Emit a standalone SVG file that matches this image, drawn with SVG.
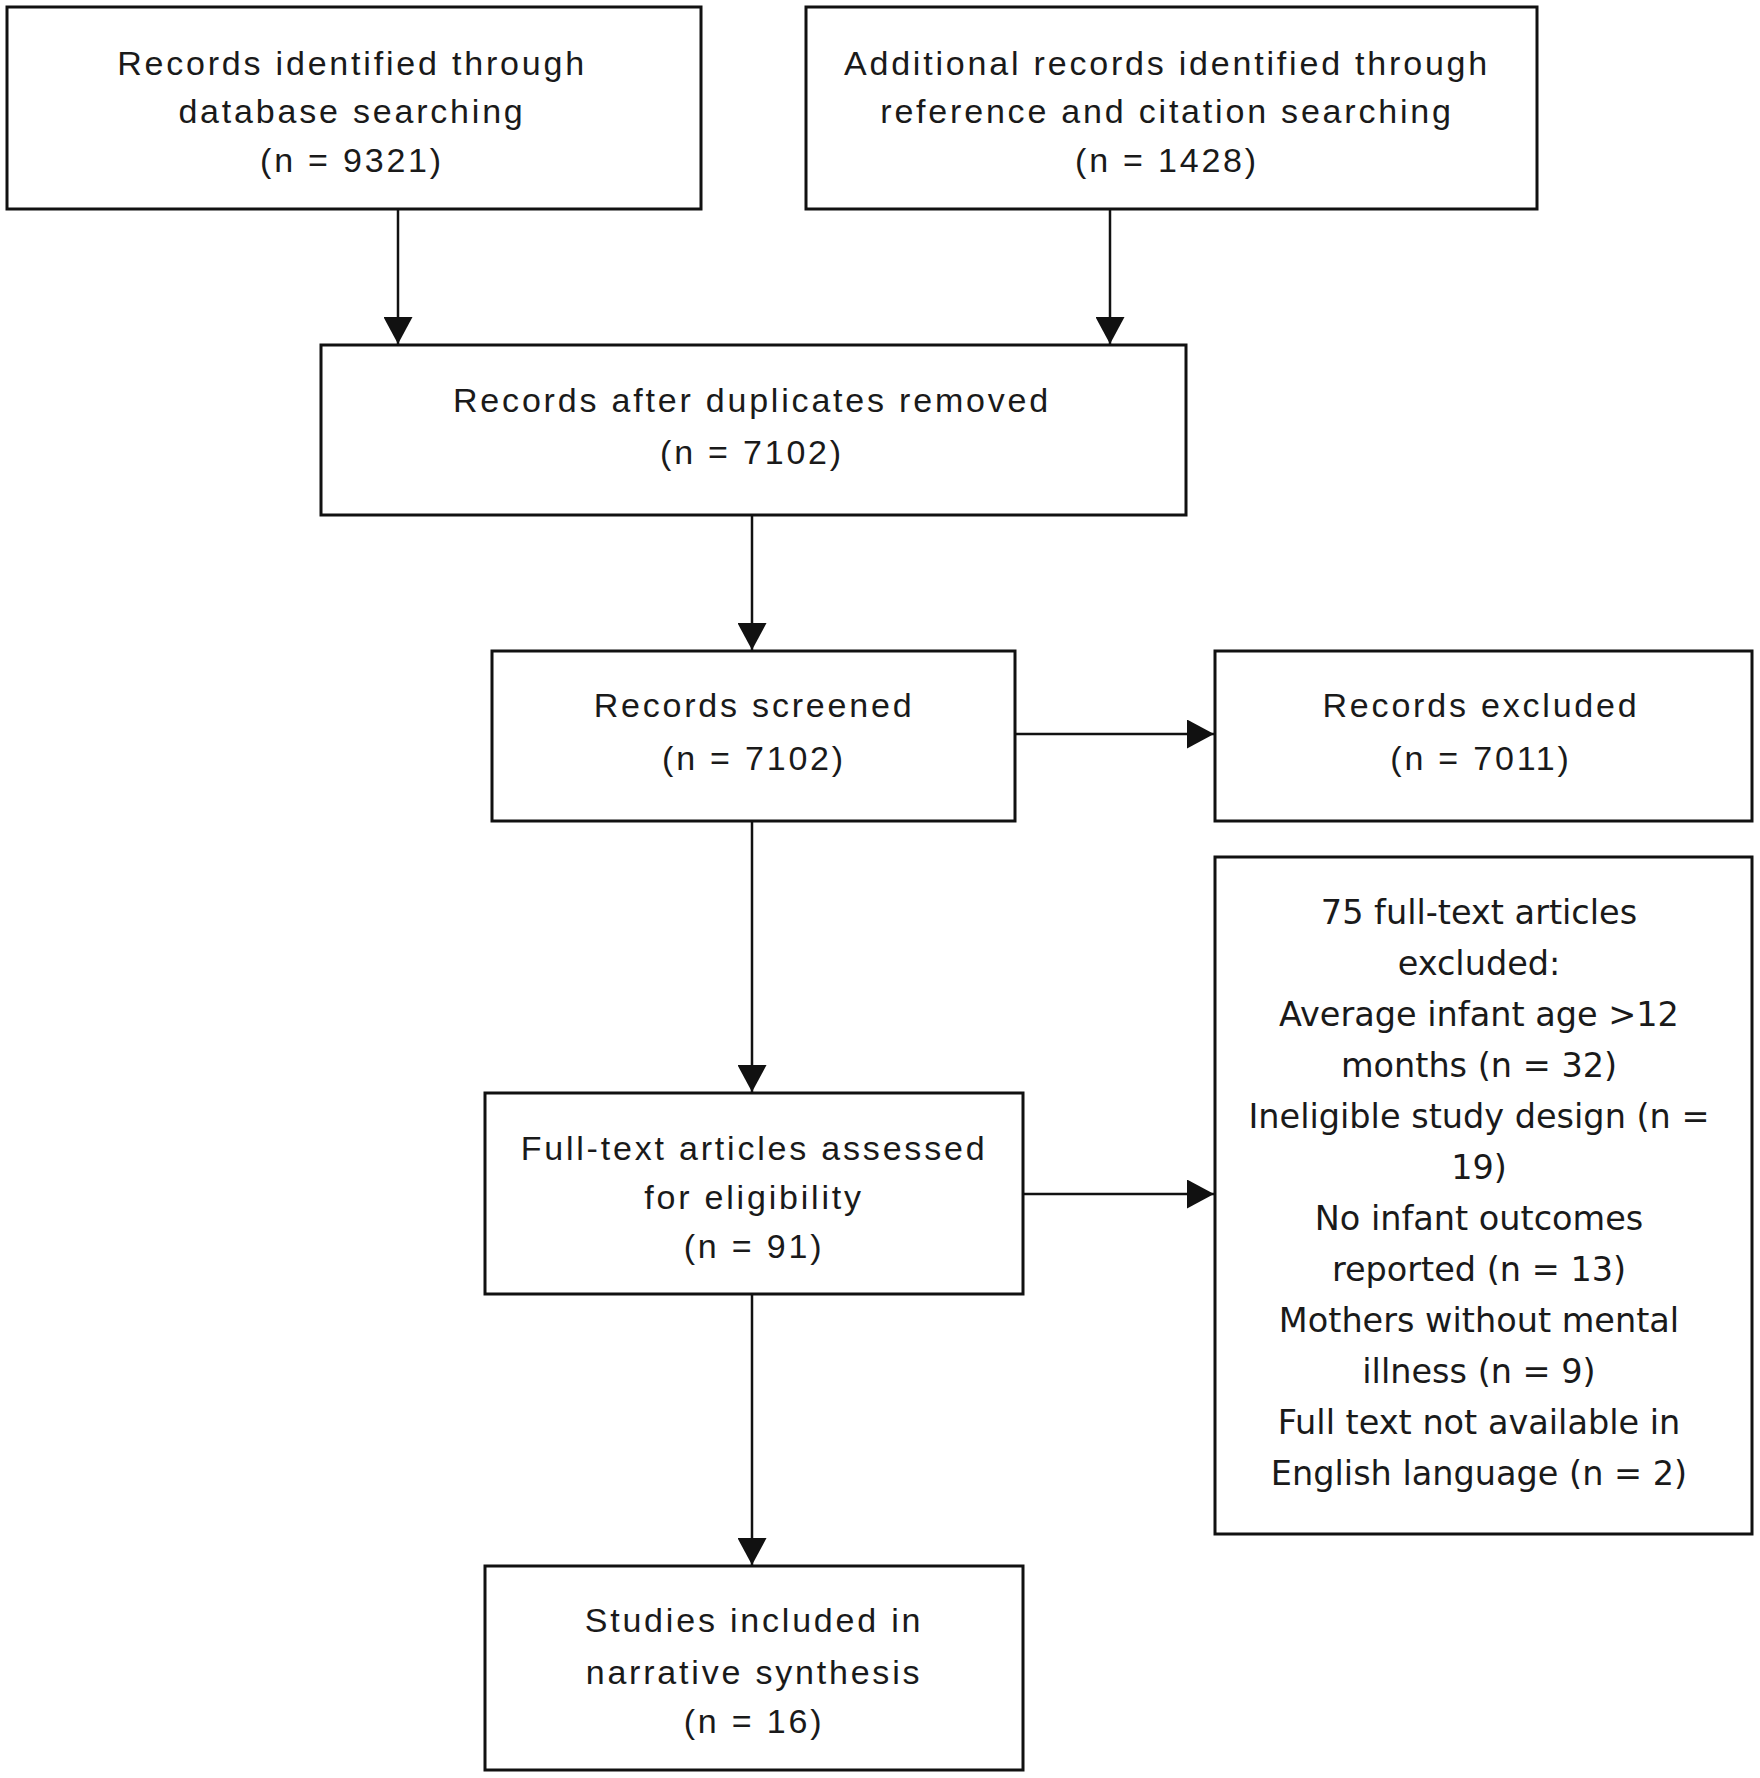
<svg xmlns="http://www.w3.org/2000/svg" width="1760" height="1778" viewBox="0 0 1760 1778">
<style>
.box{fill:#fff;stroke:#111;stroke-width:3}
.t{font-family:"Liberation Sans",Arial,sans-serif;font-size:34px;letter-spacing:2.8px;fill:#1a1a1a;text-anchor:middle}
.v{font-family:"DejaVu Sans",Verdana,sans-serif;font-size:33.5px;fill:#1a1a1a;text-anchor:middle}
.c{fill:none;stroke:#111;stroke-width:2.5}
</style>
<defs>
<marker id="ah" viewBox="0 0 27 29" refX="27" refY="14.5" markerWidth="27" markerHeight="29" markerUnits="userSpaceOnUse" orient="auto">
<path d="M0,0 L27,14.5 L0,29 z" fill="#111"/>
</marker>
</defs>
<rect width="1760" height="1778" fill="#fff"/>
<g id="connectors">
<path class="c" d="M398,209 V344" marker-end="url(#ah)"/>
<path class="c" d="M1110,209 V344" marker-end="url(#ah)"/>
<path class="c" d="M752,515 V650" marker-end="url(#ah)"/>
<path class="c" d="M1015,734 H1214" marker-end="url(#ah)"/>
<path class="c" d="M752,821 V1092" marker-end="url(#ah)"/>
<path class="c" d="M1023,1194 H1214" marker-end="url(#ah)"/>
<path class="c" d="M752,1294 V1565" marker-end="url(#ah)"/>
</g>
<g id="node-db">
<rect class="box" x="7" y="7" width="694" height="202"/>
<text class="t" x="352" y="75">Records identified through</text>
<text class="t" x="352" y="123">database searching</text>
<text class="t" x="352" y="172">(n = 9321)</text>
</g>
<g id="node-additional">
<rect class="box" x="806" y="7" width="731" height="202"/>
<text class="t" x="1167" y="75">Additional records identified through</text>
<text class="t" x="1167" y="123">reference and citation searching</text>
<text class="t" x="1167" y="172">(n = 1428)</text>
</g>
<g id="node-dedup">
<rect class="box" x="321" y="345" width="865" height="170"/>
<text class="t" x="752" y="412">Records after duplicates removed</text>
<text class="t" x="752" y="464">(n = 7102)</text>
</g>
<g id="node-screened">
<rect class="box" x="492" y="651" width="523" height="170"/>
<text class="t" x="754" y="717">Records screened</text>
<text class="t" x="754" y="770">(n = 7102)</text>
</g>
<g id="node-excluded">
<rect class="box" x="1215" y="651" width="537" height="170"/>
<text class="t" x="1481" y="717">Records excluded</text>
<text class="t" x="1481" y="770">(n = 7011)</text>
</g>
<g id="node-fulltext">
<rect class="box" x="485" y="1093" width="538" height="201"/>
<text class="t" x="754" y="1160">Full-text articles assessed</text>
<text class="t" x="754" y="1209">for eligibility</text>
<text class="t" x="754" y="1258">(n = 91)</text>
</g>
<g id="node-ft-excluded">
<rect class="box" x="1215" y="857" width="537" height="677"/>
<text class="v" x="1479" y="924">75 full-text articles</text>
<text class="v" x="1479" y="975">excluded:</text>
<text class="v" x="1479" y="1026">Average infant age &gt;12</text>
<text class="v" x="1479" y="1077">months (n = 32)</text>
<text class="v" x="1479" y="1128">Ineligible study design (n =</text>
<text class="v" x="1479" y="1179">19)</text>
<text class="v" x="1479" y="1230">No infant outcomes</text>
<text class="v" x="1479" y="1281">reported (n = 13)</text>
<text class="v" x="1479" y="1332">Mothers without mental</text>
<text class="v" x="1479" y="1383">illness (n = 9)</text>
<text class="v" x="1479" y="1434">Full text not available in</text>
<text class="v" x="1479" y="1485">English language (n = 2)</text>
</g>
<g id="node-included">
<rect class="box" x="485" y="1566" width="538" height="204"/>
<text class="t" x="754" y="1632">Studies included in</text>
<text class="t" x="754" y="1684">narrative synthesis</text>
<text class="t" x="754" y="1733">(n = 16)</text>
</g>
</svg>
